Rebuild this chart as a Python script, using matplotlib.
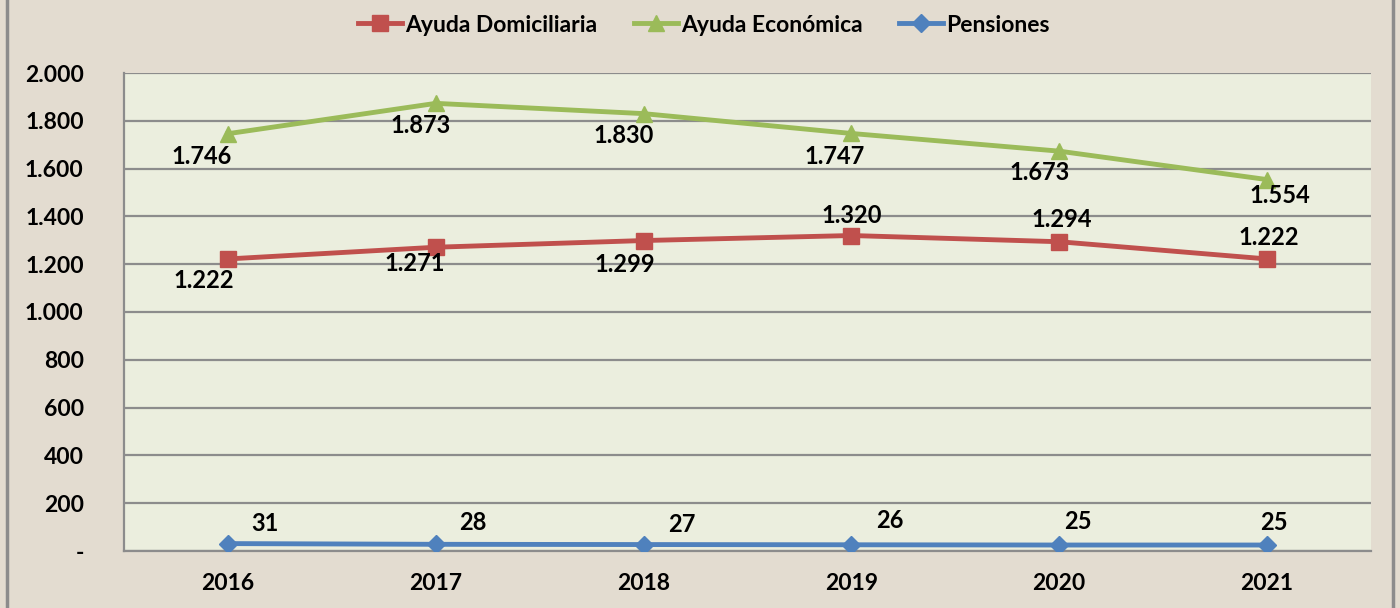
import matplotlib
matplotlib.use("Agg")
import matplotlib.pyplot as plt
from matplotlib.patches import Rectangle
from matplotlib.ticker import FixedLocator, FuncFormatter

years = ["2016", "2017", "2018", "2019", "2020", "2021"]
ayuda_domiciliaria = [1222, 1271, 1299, 1320, 1294, 1222]
ayuda_economica = [1746, 1873, 1830, 1747, 1673, 1554]
pensiones = [31, 28, 27, 26, 25, 25]

# label offsets in pixels (style only)
off_dom = [(-24, -22), (-21, -16), (-19, -24), (0, 20), (2, 22), (2, 21)]
off_eco = [(-26, -23), (-15, -22), (-20, -22), (-17, -23), (-20, -21), (13, -16)]
off_pen = [(37, 20), (37, 22), (38, 20), (38, 24), (19, 24), (7, 23)]

plt.rcParams['font.family'] = ['Lato', 'DejaVu Sans']
plt.rcParams['font.weight'] = 'bold'

FS = 16.5

fig = plt.figure(figsize=(14, 6.08), dpi=100)
fig.patch.set_facecolor('#E3DCD0')
fig.patches.append(Rectangle((7 / 1400, -0.01), (1393 - 7) / 1400, 1.02,
                             transform=fig.transFigure, fill=False,
                             edgecolor='#8C8C8C', linewidth=2.5, zorder=0))

ax = fig.add_axes([124 / 1400, 57 / 608, (1371 - 124) / 1400, (551 - 73) / 608])
ax.set_facecolor('#EBEEDE')

x = list(range(len(years)))
red, green, blue = '#C0504D', '#9BBB59', '#4F81BD'

ax.plot(x, ayuda_domiciliaria, color=red, lw=3.5, marker='s', ms=11,
        label='Ayuda Domiciliaria', zorder=4)
ax.plot(x, ayuda_economica, color=green, lw=3.5, marker='^', ms=12,
        label='Ayuda Económica', zorder=4)
ax.plot(x, pensiones, color=blue, lw=3.5, marker='D', ms=9,
        label='Pensiones', zorder=4)

def fmt(v):
    return f"{v:,.0f}".replace(",", ".")

for series, offs in ((ayuda_domiciliaria, off_dom), (ayuda_economica, off_eco), (pensiones, off_pen)):
    for xi, v, (dx, dy) in zip(x, series, offs):
        ax.annotate(fmt(v), (xi, v), xytext=(dx * 0.72, dy * 0.72), textcoords='offset points',
                    ha='center', va='center', fontsize=17, fontweight='bold', color='black', zorder=5)

ax.set_xlim(-0.5, 5.5)
ax.set_ylim(0, 2000)
ax.yaxis.set_major_locator(FixedLocator(range(0, 2001, 200)))
ax.yaxis.set_major_formatter(FuncFormatter(lambda v, p: '-' if v == 0 else fmt(v)))
ax.set_xticks(x)
ax.set_xticklabels(years)
ax.grid(axis='y', color='#8C8C8C', lw=1.6, zorder=1)
ax.set_axisbelow(True)
ax.tick_params(axis='both', length=0, labelsize=FS, colors='black')
ax.tick_params(axis='y', pad=29)
ax.tick_params(axis='x', pad=16)
for s in ['top', 'right']:
    ax.spines[s].set_visible(False)
ax.spines['left'].set_color('#8C8C8C')
ax.spines['left'].set_linewidth(1.6)
ax.spines['bottom'].set_color('#8C8C8C')
ax.spines['bottom'].set_linewidth(1.6)

leg = fig.legend(loc='center', bbox_to_anchor=(0.503, 1 - 25 / 608), ncol=3, frameon=False,
                 fontsize=FS, handlelength=1.9, columnspacing=1.6, handletextpad=0.15)
for t in leg.get_texts():
    t.set_fontweight('bold')

fig.savefig('out.png', dpi=100, facecolor=fig.get_facecolor())
